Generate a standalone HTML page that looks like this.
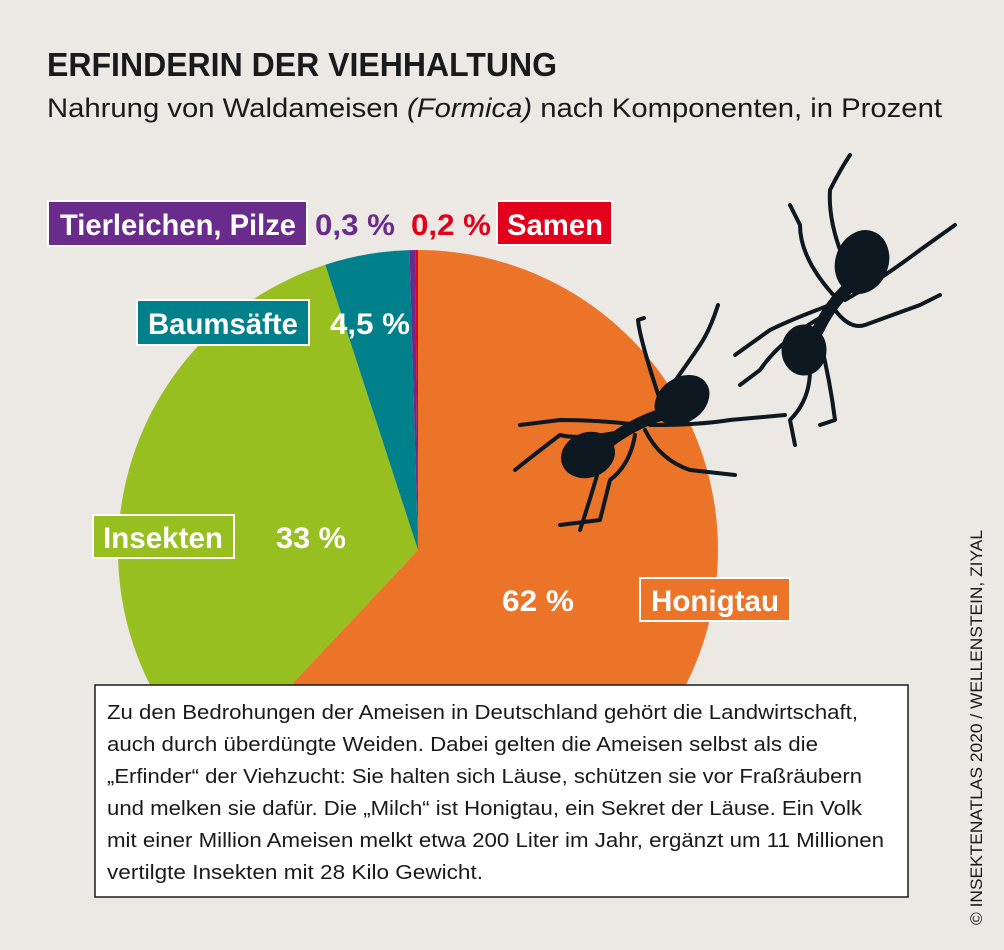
<!DOCTYPE html>
<html><head><meta charset="utf-8"><style>
body{margin:0;background:#ece8e4;}
svg{display:block}
</style></head><body>
<svg width="1004" height="950" xmlns="http://www.w3.org/2000/svg" font-family="Liberation Sans, sans-serif">
<rect width="1004" height="950" fill="#ece8e4"/>
<text x="47" y="76" font-size="33" font-weight="bold" fill="#1a1a1a" textLength="510" lengthAdjust="spacingAndGlyphs">ERFINDERIN DER VIEHHALTUNG</text>
<text x="47" y="117" font-size="27" fill="#1a1a1a" textLength="895" lengthAdjust="spacingAndGlyphs">Nahrung von Waldameisen <tspan font-style="italic">(Formica)</tspan> nach Komponenten, in Prozent</text>
<path d="M418,550 L418,250 A300,300 0 1,1 212.5,768.6 Z" fill="#ec7429"/>
<path d="M418,550 L212.5,768.6 A300,300 0 0,1 325.3,264.7 Z" fill="#97bf1f"/>
<path d="M418,550 L325.3,264.7 A300,300 0 0,1 409.5,250.1 Z" fill="#00808a"/>
<path d="M418,550 L409.5,250.1 A300,300 0 0,1 415.2,250.0 Z" fill="#6a2c8c"/>
<path d="M418,550 L415.2,250.0 A300,300 0 0,1 418,250 Z" fill="#e2001a"/>
<g fill="#0d1820" stroke="#0d1820" stroke-linecap="round" stroke-linejoin="round">
<ellipse cx="682" cy="400" rx="29" ry="22" transform="rotate(-35 682 400)"/>
<ellipse cx="588" cy="455" rx="27" ry="22" transform="rotate(-20 588 455)"/>
<path d="M605,445 Q630,425 660,415" stroke-width="12" fill="none"/>
<g fill="none" stroke-width="4">
<path d="M660,400 Q640,340 638,320 L644,318"/>
<path d="M665,395 Q690,360 700,345 Q710,330 718,305"/>
<path d="M640,425 Q600,420 560,420 L520,425"/>
<path d="M620,432 Q580,440 560,435 Q540,450 515,470"/>
<path d="M635,435 Q630,465 610,480 L600,520 L560,525"/>
<path d="M645,430 Q660,460 690,470 L735,475"/>
<path d="M650,425 Q700,425 730,420 L785,415"/>
<path d="M600,465 Q590,500 580,530"/>
</g>
<ellipse cx="862" cy="262" rx="26" ry="32" transform="rotate(20 862 262)"/>
<ellipse cx="804" cy="350" rx="22" ry="25"/>
<path d="M818,330 Q830,305 848,288" stroke-width="12" fill="none"/>
<g fill="none" stroke-width="4">
<path d="M843,258 Q828,220 830,190 Q840,170 850,155"/>
<path d="M838,300 Q800,260 800,225 L790,205"/>
<path d="M830,305 Q790,320 770,330 L735,355"/>
<path d="M825,315 Q780,340 760,370 L740,385"/>
<path d="M835,310 Q850,330 865,325 L920,305 L940,295"/>
<path d="M845,300 Q880,280 920,250 L955,225"/>
<path d="M820,340 Q830,380 835,420 L820,425"/>
<path d="M810,370 Q810,400 790,420 L795,445"/>
</g>
</g>
<g font-weight="bold" font-size="30">
<rect x="48" y="201" width="259" height="45" fill="#6a2c8c" stroke="#fff" stroke-width="2"/>
<text x="60" y="235" fill="#fff" textLength="236" lengthAdjust="spacingAndGlyphs">Tierleichen, Pilze</text>
<text x="315" y="235" fill="#6a2c8c" textLength="80" lengthAdjust="spacingAndGlyphs">0,3 %</text>
<text x="411" y="235" fill="#e2001a" textLength="80" lengthAdjust="spacingAndGlyphs">0,2 %</text>
<rect x="497" y="201" width="115" height="44" fill="#e2001a" stroke="#fff" stroke-width="2"/>
<text x="507" y="235" fill="#fff" textLength="96" lengthAdjust="spacingAndGlyphs">Samen</text>
<rect x="137" y="300" width="172" height="45" fill="#00808a" stroke="#fff" stroke-width="2"/>
<text x="148" y="334" fill="#fff" textLength="150" lengthAdjust="spacingAndGlyphs">Baumsäfte</text>
<text x="330" y="334" fill="#fff" textLength="80" lengthAdjust="spacingAndGlyphs">4,5 %</text>
<rect x="93" y="515" width="141" height="43" fill="#97bf1f" stroke="#fff" stroke-width="2"/>
<text x="103" y="548" fill="#fff" textLength="120" lengthAdjust="spacingAndGlyphs">Insekten</text>
<text x="276" y="548" fill="#fff" textLength="70" lengthAdjust="spacingAndGlyphs">33 %</text>
<text x="502" y="611" fill="#fff" textLength="72" lengthAdjust="spacingAndGlyphs">62 %</text>
<rect x="640" y="578" width="150" height="43" fill="#ec7429" stroke="#fff" stroke-width="2"/>
<text x="651" y="611" fill="#fff" textLength="128" lengthAdjust="spacingAndGlyphs">Honigtau</text>
</g>
<rect x="95" y="685" width="813" height="212" fill="#fff" stroke="#1a1a1a" stroke-width="1.5"/>
<g font-size="20" fill="#1a1a1a">
<text x="107" y="719" textLength="751" lengthAdjust="spacingAndGlyphs">Zu den Bedrohungen der Ameisen in Deutschland gehört die Landwirtschaft,</text>
<text x="107" y="751" textLength="711" lengthAdjust="spacingAndGlyphs">auch durch überdüngte Weiden. Dabei gelten die Ameisen selbst als die</text>
<text x="107" y="783" textLength="755" lengthAdjust="spacingAndGlyphs">„Erfinder“ der Viehzucht: Sie halten sich Läuse, schützen sie vor Fraßräubern</text>
<text x="107" y="815" textLength="755" lengthAdjust="spacingAndGlyphs">und melken sie dafür. Die „Milch“ ist Honigtau, ein Sekret der Läuse. Ein Volk</text>
<text x="107" y="847" textLength="777" lengthAdjust="spacingAndGlyphs">mit einer Million Ameisen melkt etwa 200 Liter im Jahr, ergänzt um 11 Millionen</text>
<text x="107" y="879" textLength="376" lengthAdjust="spacingAndGlyphs">vertilgte Insekten mit 28 Kilo Gewicht.</text>
</g>
<text transform="translate(982,925) rotate(-90)" font-size="17" fill="#1a1a1a" textLength="395" lengthAdjust="spacingAndGlyphs">© INSEKTENATLAS 2020 / WELLENSTEIN, ZIYAL</text>
</svg>
</body></html>
